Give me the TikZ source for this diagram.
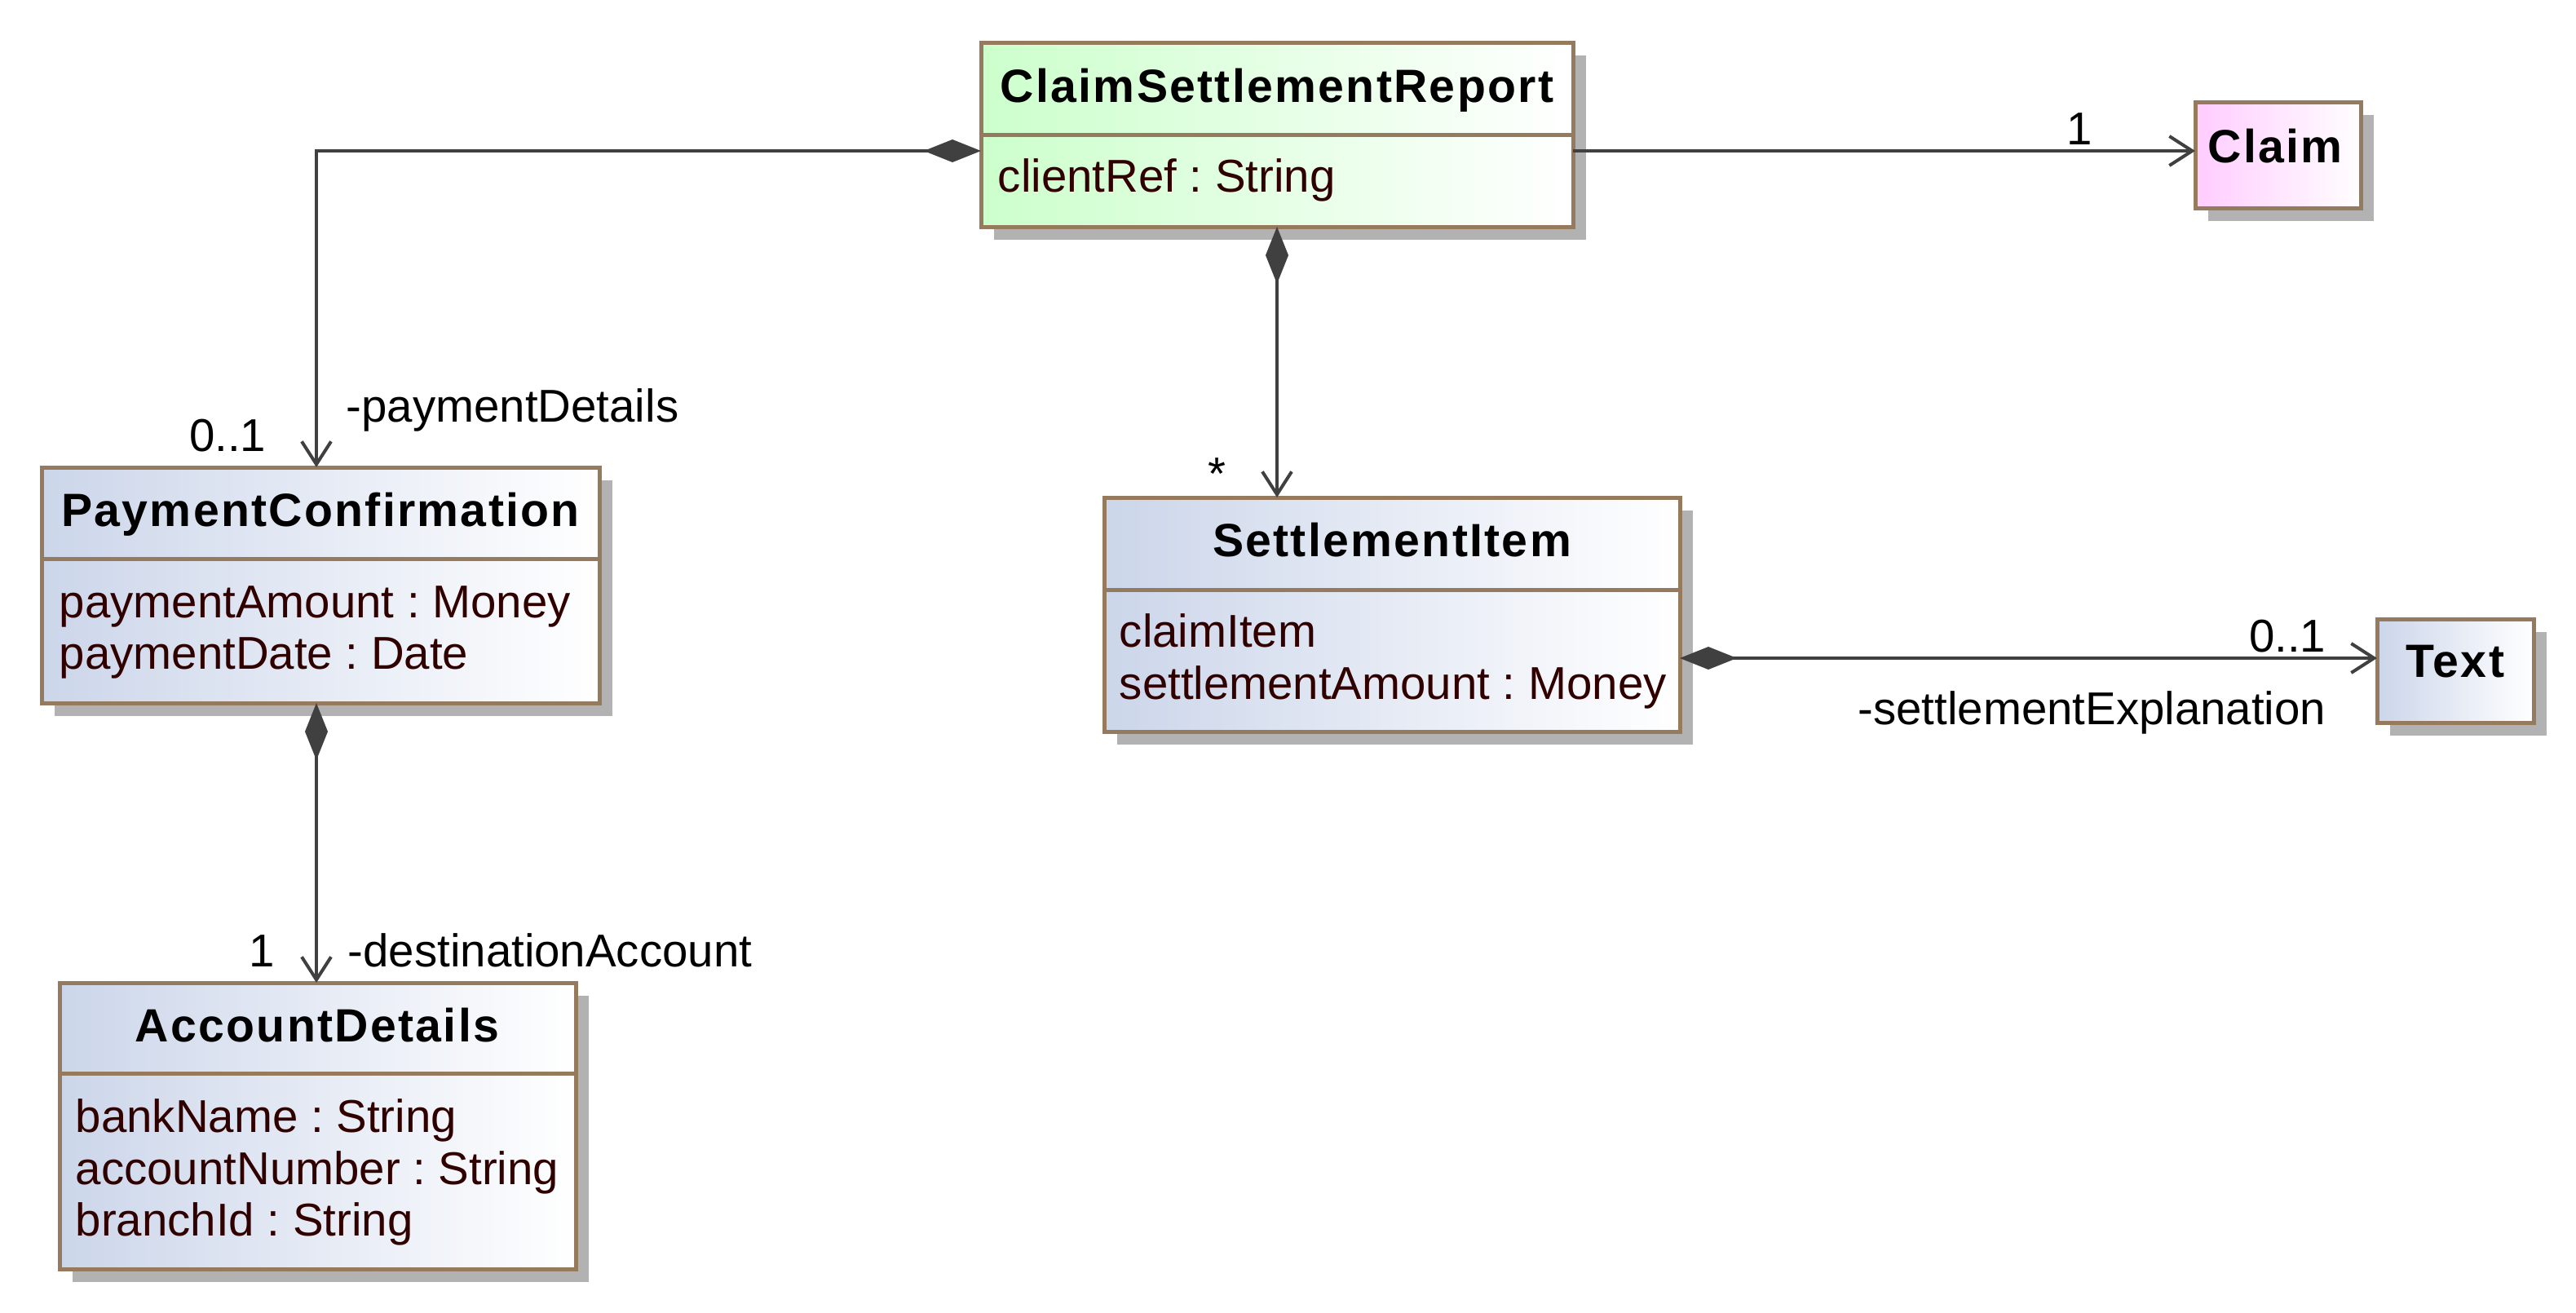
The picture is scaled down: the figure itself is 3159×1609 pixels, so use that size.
\documentclass[tikz,border=0pt]{standalone}
\usepackage{fontspec}
\setmainfont{Liberation Sans}
\newfontfamily\titlefont[LetterSpace=4]{Liberation Sans}
\usetikzlibrary{arrows.meta,fit,shadows}
\definecolor{bordc}{RGB}{150,122,94}
\definecolor{linec}{RGB}{64,64,64}
\definecolor{shadc}{RGB}{178,178,178}
\definecolor{attrc}{RGB}{48,0,0}
\definecolor{bluef}{RGB}{204,214,234}
\definecolor{greenf}{RGB}{204,255,204}
\definecolor{pinkf}{RGB}{255,204,255}
\frenchspacing
\begin{document}
\frenchspacing
\begin{tikzpicture}[x=0.25pt,y=-0.25pt,
  every node/.style={font=\fontsize{14.1}{17}\selectfont},
  classbox/.style={draw=bordc, line width=1.25pt, inner sep=0pt, outer sep=0pt, rectangle,
    drop shadow={shadow xshift=3.9pt, shadow yshift=-3.9pt, fill=shadc, opacity=1}},
  bluebox/.style={classbox, left color=bluef, right color=white},
  greenbox/.style={classbox, left color=greenf, right color=white},
  pinkbox/.style={classbox, left color=pinkf, right color=white},
  divider/.style={draw=bordc, line width=1.25pt},
  titletext/.style={font=\titlefont\fontsize{14.3}{17}\selectfont\bfseries, inner sep=0pt, anchor=base},
  attrtext/.style={text=attrc, inner sep=0pt, anchor=base west},
  labeltext/.style={inner sep=0pt},
  assoc/.style={draw=linec, line width=1pt, {Diamond[length=17.5pt,width=7pt]}-{Straight Barb[length=7pt,width=9pt]}},
  navig/.style={draw=linec, line width=1pt, -{Straight Barb[length=7pt,width=9pt]}}
]
\useasboundingbox (0,0) rectangle (3159,1609);

% class boxes
\node[greenbox, fit={(1203,52) (1929,278)}] (csr) {};
\node[pinkbox, fit={(2692,125) (2895,255)}] (claim) {};
\node[bluebox, fit={(51,573) (735,862)}] (pc) {};
\node[bluebox, fit={(1354,610) (2060,897)}] (si) {};
\node[bluebox, fit={(73,1205) (706,1556)}] (ad) {};
\node[bluebox, fit={(2915,759) (3107,886)}] (txt) {};

% dividers
\coordinate (dcsr) at (0,165);
\coordinate (dpc) at (0,685);
\coordinate (dsi) at (0,723);
\coordinate (dad) at (0,1316);
\draw[divider] (csr.west |- dcsr) -- (csr.east |- dcsr);
\draw[divider] (pc.west |- dpc) -- (pc.east |- dpc);
\draw[divider] (si.west |- dsi) -- (si.east |- dsi);
\draw[divider] (ad.west |- dad) -- (ad.east |- dad);

% texts
\node[titletext] (csrt) at (1566,125) {ClaimSettlementReport};
\node[attrtext] (csra) at (1223,235) {clientRef : String};
\node[titletext] (claimt) at (2790,199) {Claim};
\node[titletext] (pct) at (393,645) {PaymentConfirmation};
\node[attrtext] (pca1) at (72,757) {paymentAmount : Money};
\node[attrtext] (pca2) at (72,820) {paymentDate : Date};
\node[titletext] (sit) at (1707,682) {SettlementItem};
\node[attrtext] (sia1) at (1372,793) {claimItem};
\node[attrtext] (sia2) at (1372,857) {settlementAmount : Money};
\node[titletext] (adt) at (389,1277) {AccountDetails};
\node[attrtext] (ada1) at (92,1388) {bankName : String};
\node[attrtext] (ada2) at (92,1452) {accountNumber : String};
\node[attrtext] (ada3) at (92,1515) {branchId : String};
\node[titletext] (txtt) at (3011,830) {Text};

% connectors
\coordinate (yA) at (0,185);
\coordinate (yB) at (0,807);
\coordinate (xA) at (388,0);
\draw[assoc] (csr.west |- yA) -| (xA |- pc.north);
\draw[navig] (csr.east |- yA) -- (claim.west |- yA);
\draw[assoc] (csr.south) -- (csr.south |- si.north);
\draw[assoc] (xA |- pc.south) -- (xA |- ad.north);
\draw[assoc] (si.east |- yB) -- (txt.west |- yB);

% labels
\node[labeltext, anchor=base west] (lpd) at (424,517) {-paymentDetails};
\node[labeltext, anchor=base east] (mpd) at (327,553) {0..1};
\node[labeltext, anchor=base east] (mcl) at (2567,177) {1};
\node[labeltext, anchor=base] (msi) at (1492,600) {*};
\node[labeltext, anchor=base west] (lda) at (426,1185) {-destinationAccount};
\node[labeltext, anchor=base east] (mda) at (338,1185) {1};
\node[labeltext, anchor=base east] (mtx) at (2853,799) {0..1};
\node[labeltext, anchor=base east] (lse) at (2853,888) {-settlementExplanation};
\end{tikzpicture}
\end{document}
